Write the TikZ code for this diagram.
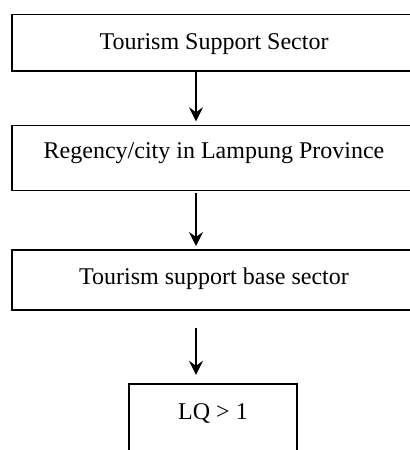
\documentclass[tikz,border=0pt]{standalone}
\usepackage{fontspec}
\setmainfont{Liberation Serif}
\usetikzlibrary{arrows.meta}
\begin{document}
\begin{tikzpicture}[x=1bp, y=-1bp,
  box/.style={draw, line width=1.4bp, rectangle, inner sep=0pt,
    font=\fontsize{24bp}{28bp}\selectfont, text height=16bp},
  flow/.style={line width=1.3bp,
    -{Stealth[length=14bp, width=14bp, inset=5bp]}}]
  \useasboundingbox (0,0) rectangle (409,450);
  \node[box, minimum width=404bp, minimum height=56.5bp, text depth=2.5bp]
    (sector) at (214,42.75) {Tourism Support Sector};
  \node[box, minimum width=404bp, minimum height=65bp, text depth=14bp]
    (region) at (214,158) {Regency/city in Lampung Province};
  \node[box, minimum width=404bp, minimum height=60bp, text depth=8bp]
    (base) at (214,280) {Tourism support base sector};
  \node[box, minimum width=168bp, minimum height=80bp, text depth=25.4bp]
    (lq) at (213,424) {LQ > 1};
  \coordinate (axis) at (196,0);
  \draw[flow, shorten >=3.5bp] (sector.south -| axis) -- (region.north -| axis);
  \draw[flow, shorten <=1.5bp, shorten >=3.3bp] (region.south -| axis) -- (base.north -| axis);
  \draw[flow, shorten <=17bp, shorten >=8.5bp] (base.south -| axis) -- (lq.north -| axis);
\end{tikzpicture}
\end{document}
